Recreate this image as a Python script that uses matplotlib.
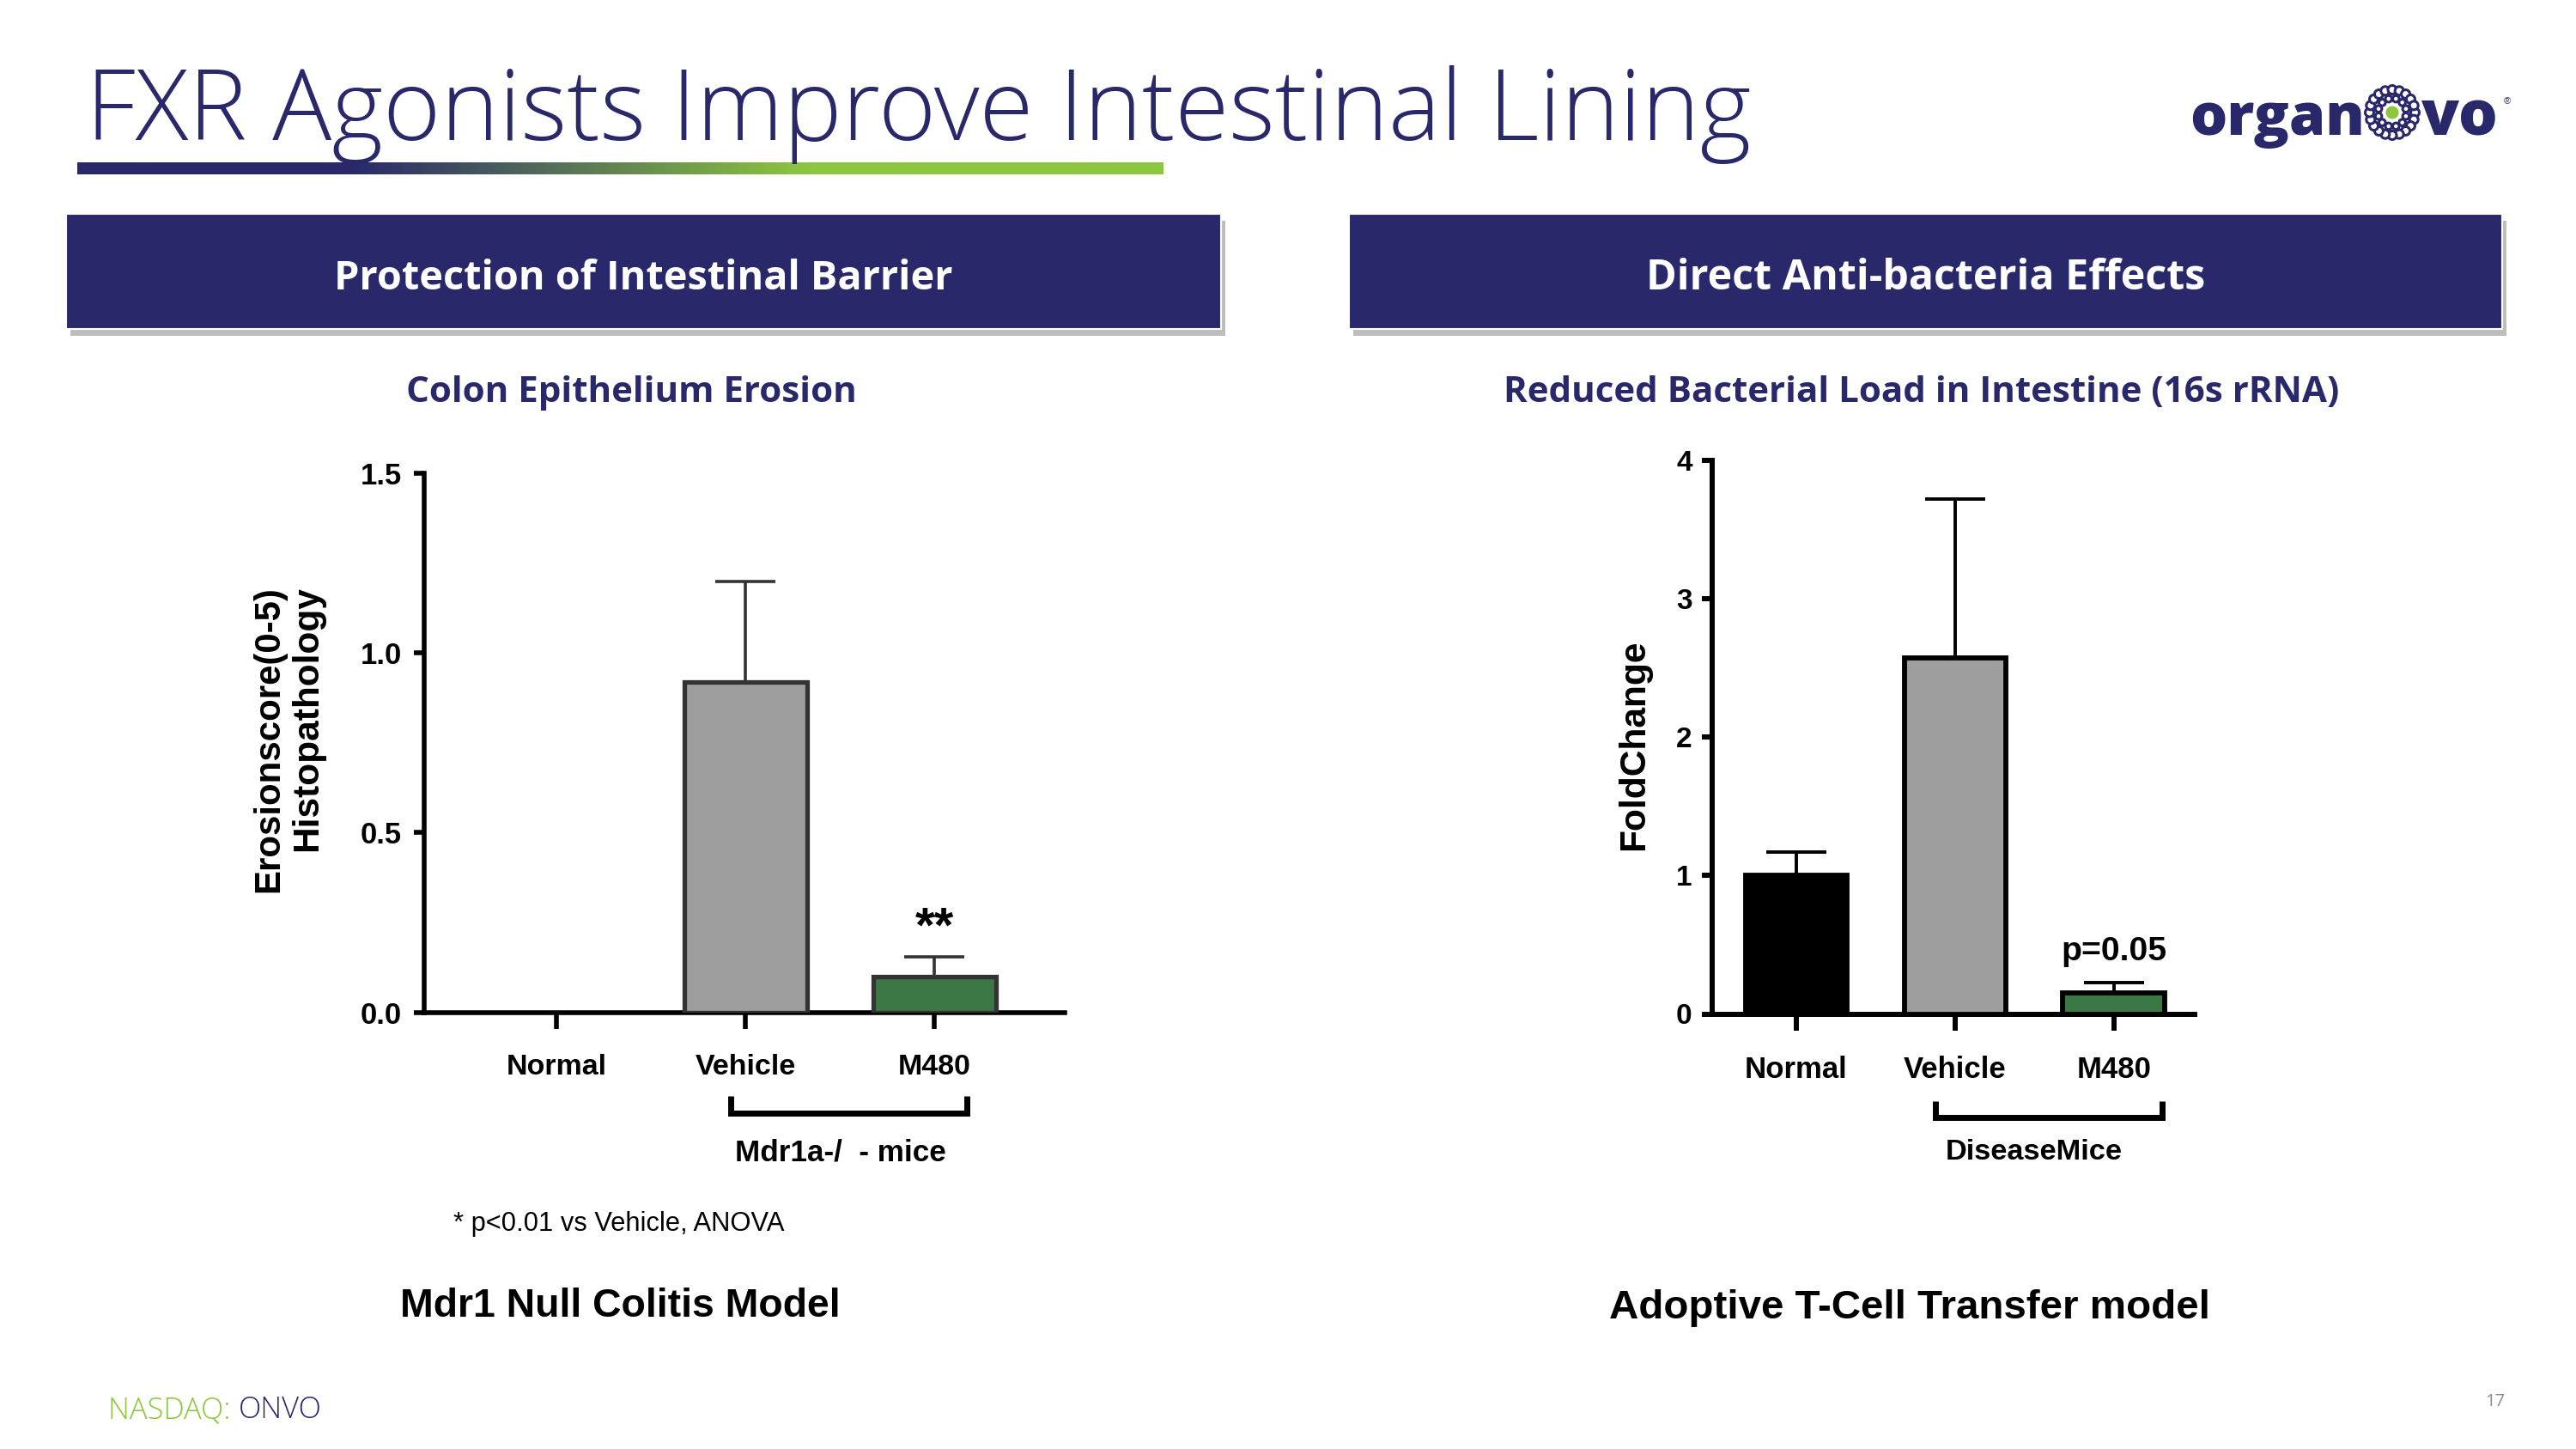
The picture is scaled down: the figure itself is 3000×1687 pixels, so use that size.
import numpy as np
import matplotlib
matplotlib.use("Agg")
import matplotlib.pyplot as plt
from matplotlib import font_manager as fm
from matplotlib.patches import Rectangle, Circle
from matplotlib.colors import to_rgb

# ---------------- data ----------------
left_categories = ["Normal", "Vehicle", "M480"]
left_values = [0.0, 0.92, 0.10]
left_errors = [0.0, 0.28, 0.055]
left_yticks = [0.0, 0.5, 1.0, 1.5]
left_yticklabels = ["0.0", "0.5", "1.0", "1.5"]

right_categories = ["Normal", "Vehicle", "M480"]
right_values = [1.0, 2.57, 0.155]
right_errors = [0.17, 1.15, 0.07]
right_yticks = [0, 1, 2, 3, 4]
right_yticklabels = ["0", "1", "2", "3", "4"]

# ---------------- style ----------------
NAVY = "#28286B"
LGREEN = "#8CC63F"
BAR_GREEN = "#3B7846"
BAR_GRAY = "#9E9E9E"
EDGE_L = "#333333"

avail = {f.name for f in fm.fontManager.ttflist}
def pick(*names):
    for n in names:
        if n in avail:
            return n
    return "DejaVu Sans"
ARIAL = pick("Liberation Sans", "Arial")
SANS = pick("Open Sans", "Lato", "Noto Sans")

W, H = 3000, 1687
fig = plt.figure(figsize=(W / 100, H / 100), dpi=100)
fig.patch.set_facecolor("white")
ov = fig.add_axes([0, 0, 1, 1], zorder=0)
ov.set_autoscale_on(False)
ov.set_xlim(0, W)
ov.set_ylim(H, 0)
ov.axis("off")
renderer = fig.canvas.get_renderer()


def fit(x, y, s, size, ax=None, dim="w", base=20, **kw):
    ax = ov if ax is None else ax
    t = ax.text(x, y, s, fontsize=base, **kw)
    ext = t.get_window_extent(renderer)
    cur = ext.width if dim == "w" else ext.height
    t.set_fontsize(base * size / cur)
    return t

# ---------------- title & decoration ----------------
fit(100, 163, "FXR Agonists Improve Intestinal Lining", 1940, ha="left", va="baseline",
    color=NAVY, family=SANS, fontweight="light")

navy_rgb = np.array(to_rgb(NAVY))
green_rgb = np.array(to_rgb(LGREEN))
tt = np.linspace(0, 1, 800)
ss = np.clip((tt - 0.25) / (0.67 - 0.25), 0, 1)[:, None]
grad = navy_rgb * (1 - ss) + green_rgb * ss
ov.imshow(grad[None, :, :], extent=[90, 1355, 203, 189], aspect="auto",
          interpolation="bilinear", zorder=1)

# logo
fit(2550, 157, "organ", 204, ha="left", va="baseline", color=NAVY, family=SANS, fontweight="heavy")
fit(2820, 157, "vo", 90, ha="left", va="baseline", color=NAVY, family=SANS, fontweight="heavy")
ov.text(2916, 118, "®", fontsize=8, color=NAVY, ha="left", va="center", family=ARIAL)
cx, cy = 2786, 131
for r, n, rr in [(26.5, 20, 5.0), (16.5, 12, 3.8)]:
    for k in range(n):
        a = 2 * np.pi * k / n + (np.pi / n if n == 12 else 0)
        ov.add_patch(Circle((cx + r * np.cos(a), cy + r * np.sin(a)), rr,
                            facecolor="white", edgecolor=NAVY, lw=2.2, zorder=3))
ov.add_patch(Circle((cx, cy), 7.5, facecolor=LGREEN, edgecolor="none", zorder=3))

# header boxes
for (x0, x1, label, tw) in [(76.5, 1421.6, "Protection of Intestinal Barrier", 721),
                            (1570.8, 2914, "Direct Anti-bacteria Effects", 651)]:
    y0, y1 = 248.7, 382.7
    ov.add_patch(Rectangle((x0 + 5, y0 + 8), x1 - x0, y1 - y0, facecolor="#bdbdbd",
                           edgecolor="none", zorder=1))
    ov.add_patch(Rectangle((x0, y0), x1 - x0, y1 - y0, facecolor=NAVY,
                           edgecolor="white", lw=1.5, zorder=2))
    fit((x0 + x1) / 2, 324, label, tw, ha="center", va="center", color="white",
        family=SANS, fontweight="bold", zorder=3)

# subtitles
fit(735.6, 457, "Colon Epithelium Erosion", 526, ha="center", va="center",
    color=NAVY, family=SANS, fontweight="bold")
fit(2237.6, 457, "Reduced Bacterial Load in Intestine (16s rRNA)", 974, ha="center",
    va="center", color=NAVY, family=SANS, fontweight="bold")

# ---------------- left chart ----------------
axL = fig.add_axes([494 / W, 1 - 1178.6 / H, (1240 - 494) / W, (1178.6 - 551) / H], zorder=2)
axL.patch.set_alpha(0)
xl = np.arange(len(left_categories))
lv = np.array(left_values)
le = np.array(left_errors)
m = lv > 0
lcolors = np.array(["white", BAR_GRAY, BAR_GREEN])
axL.bar(xl[m], lv[m], width=0.65, color=lcolors[m], edgecolor=EDGE_L, linewidth=3.8, zorder=3)
axL.errorbar(xl[m], lv[m], yerr=[np.zeros(m.sum()), le[m]], fmt="none", ecolor=EDGE_L,
             elinewidth=2.6, capsize=25, capthick=2.6, zorder=2)
axL.set_xlim(-0.70, 2.69)
axL.set_ylim(0, 1.5)
for sp in ["top", "right"]:
    axL.spines[sp].set_visible(False)
for sp in ["left", "bottom"]:
    axL.spines[sp].set_linewidth(4)
    axL.spines[sp].set_color("black")
axL.set_yticks(left_yticks)
axL.set_yticklabels(left_yticklabels, fontsize=25, fontweight="bold", family=ARIAL)
axL.set_xticks(xl)
axL.set_xticklabels(left_categories, fontsize=24.5, fontweight="bold", family=ARIAL)
axL.tick_params(axis="y", length=8.6, width=4, pad=10, direction="out")
axL.tick_params(axis="x", length=13.7, width=4, pad=21, direction="out")
fit(xl[2], lv[2] + le[2] + 0.04, "**", 45, ax=axL, ha="center", va="baseline",
    color="black", family=ARIAL, fontweight="bold")

# y label (two lines)
fit(313, 682, "Erosionscore(0-5)", 357, dim="h", rotation=90, ha="center", va="top",
    color="black", family=ARIAL, fontweight="bold")
fit(358, 682, "Histopathology", 308, dim="h", rotation=90, ha="center", va="top",
    color="black", family=ARIAL, fontweight="bold")

# bracket
ov.plot([851, 851, 1126, 1126], [1276, 1296, 1296, 1276], color="black", lw=5,
        solid_joinstyle="miter", solid_capstyle="butt")
fit(979, 1342, "Mdr1a-/  - mice", 246, ha="center", va="center", color="black",
    family=ARIAL, fontweight="bold")
fit(528, 1425, "* p<0.01 vs Vehicle, ANOVA", 385, ha="left", va="center", color="black",
    family=ARIAL)
fit(722, 1521, "Mdr1 Null Colitis Model", 512, ha="center", va="center", color="black",
    family=ARIAL, fontweight="bold")

# ---------------- right chart ----------------
axR = fig.add_axes([1993.7 / W, 1 - 1180.5 / H, (2556 - 1993.7) / W, (1180.5 - 535.7) / H], zorder=2)
axR.patch.set_alpha(0)
xr = np.arange(len(right_categories))
axR.bar(xr, right_values, width=0.64, color=["black", BAR_GRAY, BAR_GREEN], edgecolor="black",
        linewidth=4.2, zorder=3)
axR.errorbar(xr, right_values, yerr=[np.zeros(len(xr)), right_errors], fmt="none",
             ecolor="black", elinewidth=2.8, capsize=25, capthick=2.8, zorder=2)
axR.set_xlim(-0.53, 2.51)
axR.set_ylim(0, 4)
for sp in ["top", "right"]:
    axR.spines[sp].set_visible(False)
for sp in ["left", "bottom"]:
    axR.spines[sp].set_linewidth(4.3)
    axR.spines[sp].set_color("black")
axR.set_yticks(right_yticks)
axR.set_yticklabels(right_yticklabels, fontsize=24, fontweight="bold", family=ARIAL)
axR.set_xticks(xr)
axR.set_xticklabels(right_categories, fontsize=25, fontweight="bold", family=ARIAL)
axR.tick_params(axis="y", length=8.6, width=4.3, pad=8, direction="out")
axR.tick_params(axis="x", length=13.7, width=4.3, pad=21, direction="out")
fit(xr[2], right_values[2] + right_errors[2] + 0.16, "p=0.05", 123, ax=axR, ha="center",
    va="baseline", color="black", family=ARIAL, fontweight="bold")

fit(1903, 867, "FoldChange", 245, dim="h", rotation=90, ha="center", va="center",
    color="black", family=ARIAL, fontweight="bold")

ov.plot([2254, 2254, 2518, 2518], [1282, 1301, 1301, 1282], color="black", lw=5,
        solid_joinstyle="miter", solid_capstyle="butt")
fit(2369, 1342, "DiseaseMice", 206, ha="center", va="center", color="black",
    family=ARIAL, fontweight="bold")
fit(2224, 1523, "Adoptive T-Cell Transfer model", 698, ha="center", va="center",
    color="black", family=ARIAL, fontweight="bold")

# ---------------- footer ----------------
tmp = fit(126, 1642, "NASDAQ: ONVO", 249, ha="left", va="center", color=LGREEN,
          family=SANS, fontweight="light")
fs = tmp.get_fontsize()
tmp.remove()
t1 = ov.text(126, 1642, "NASDAQ: ", fontsize=fs, ha="left", va="center", color=LGREEN,
             family=SANS, fontweight="light")
ext = t1.get_window_extent(renderer)
ov.text(126 + ext.width, 1642, "ONVO", fontsize=fs, ha="left", va="center", color=NAVY,
        family=SANS, fontweight="light")
fit(2906, 1632, "17", 23, ha="center", va="center", color="#8a8a8a", family=SANS)

ov.set_xlim(0, W)
ov.set_ylim(H, 0)
fig.savefig("out.png", dpi=100, facecolor="white")
